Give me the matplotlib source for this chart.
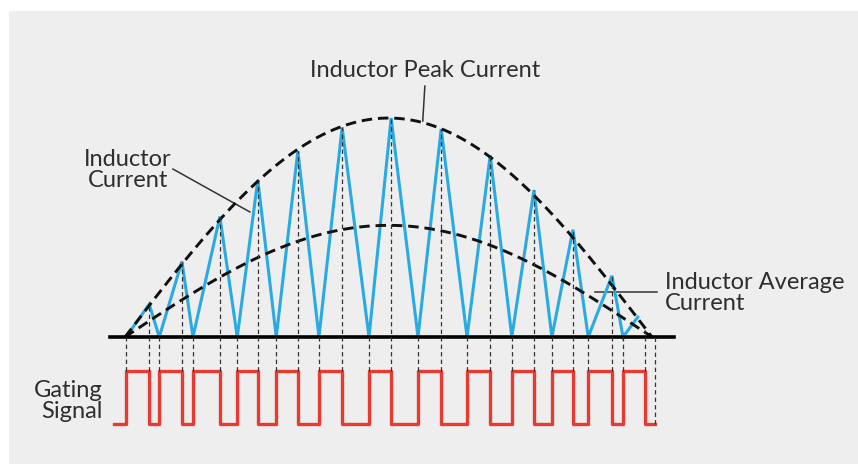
import numpy as np
import matplotlib.pyplot as plt
from matplotlib.patches import Rectangle

# switching instants in ms
t_on = [0.02, 0.65, 1.29, 2.13, 2.87, 3.68, 4.63, 5.56, 6.49, 7.34, 8.10, 8.79, 9.45]
t_off = [0.46, 1.08, 1.80, 2.52, 3.28, 4.12, 5.05, 6.00, 6.93, 7.76, 8.50, 9.24, 9.87]
t_start = -0.21
t_end = 10.06

# inductor current vertices (A)
i_t = [0.02, 0.46, 0.65, 1.08, 1.29, 1.80, 2.13, 2.52, 2.87, 3.28, 3.68, 4.12, 4.63,
       5.05, 5.56, 6.00, 6.49, 6.93, 7.34, 7.76, 8.10, 8.50, 8.79, 9.24, 9.45, 9.73]
i_val = [0.0, 1.5, 0.0, 3.45, 0.0, 5.5, 0.0, 7.17, 0.0, 8.5, 0.0, 9.57, 0.0,
         10.0, 0.0, 9.5, 0.0, 8.3, 0.0, 6.71, 0.0, 4.9, 0.0, 2.8, 0.0, 0.91]

# top of the dashed guide at each turn-off edge
off_top = [1.5, 3.45, 5.5, 7.17, 8.5, 9.57, 10.0, 9.5, 8.3, 6.71, 4.9, 2.8, 0.3]

# envelopes
half_cycle = 10.0
peak_amp = 10.0
avg_amp = 5.1

# layout (where the gating trace sits under the current axis)
gate_hi = -1.55
gate_lo = -3.97

blue = '#29abe2'
red = '#e93a32'
grey = '#333333'
font = ['Lato', 'DejaVu Sans']

fig = plt.figure(figsize=(8.58, 4.66), dpi=100, facecolor='white')
fig.patches.append(Rectangle((9 / 858, 2 / 466), 849 / 858, 453 / 466,
                             transform=fig.transFigure, facecolor='#eeeeee',
                             edgecolor='none', zorder=-10))
ax = fig.add_axes([0, 0, 1, 1])
ax.set_facecolor('none')
ax.set_xlim(-2.372, 13.909)
ax.set_ylim(-5.89, 15.39)
ax.axis('off')

# envelopes
t = np.linspace(0, half_cycle, 300)
ax.plot(t, peak_amp * np.sin(np.pi * t / half_cycle), color='#111111', lw=2.1,
        dashes=(3.6, 2.0), zorder=4)
ax.plot(t, avg_amp * np.sin(np.pi * t / half_cycle), color='#111111', lw=2.1,
        dashes=(3.6, 2.0), zorder=4)

# inductor current
ax.plot(i_t, i_val, color=blue, lw=2.2, solid_joinstyle='miter', zorder=3)

# baseline
ax.plot([-0.285, 10.42], [0, 0], color='black', lw=2.6, zorder=5)

# gating signal
gx = [t_start]
gy = [0]
for a, b in zip(t_on, t_off):
    gx += [a, b]
    gy += [1, 0]
gx.append(t_end)
gy.append(0)
gy = [gate_lo + g * (gate_hi - gate_lo) for g in gy]
ax.plot(gx, gy, color=red, lw=2.4, drawstyle='steps-post', zorder=3)

# dashed guides
for a in t_on:
    ax.plot([a, a], [gate_hi, 0], color=grey, lw=0.9, dashes=(3.5, 2.5), zorder=6)
for a, top in zip(t_off, off_top):
    ax.plot([a, a], [gate_hi, top], color=grey, lw=0.9, dashes=(3.5, 2.5), zorder=6)
ax.plot([t_end, t_end], [gate_lo, 0], color=grey, lw=0.9, dashes=(3.5, 2.5), zorder=6)

# labels
tk = dict(color='#2e2e2e', fontsize=17, family=font)
ax.text(5.69, 12.15, 'Inductor Peak Current', ha='center', va='center', **tk)
ax.plot([5.69, 5.65], [11.46, 9.86], color=grey, lw=1.1)

ax.text(0.06, 7.63, 'Inductor\nCurrent', ha='center', va='center',
        linespacing=1.0, **tk)
ax.plot([0.91, 2.37], [7.67, 5.71], color=grey, lw=1.1)

ax.text(10.25, 2.0, 'Inductor Average\nCurrent', ha='left', va='center',
        linespacing=1.0, **tk)
ax.plot([8.92, 10.09], [2.05, 2.05], color=grey, lw=1.1)

ax.text(-0.42, -2.92, 'Gating\nSignal', ha='right', va='center',
        multialignment='right', linespacing=1.0, **tk)

fig.savefig('out.png', dpi=100, facecolor=fig.get_facecolor())
